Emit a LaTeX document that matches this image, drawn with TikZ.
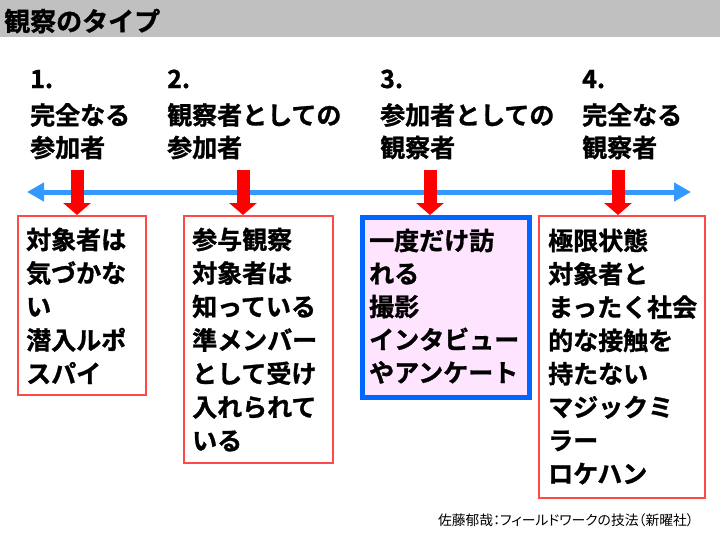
\documentclass[tikz,border=0pt]{standalone}
\usepackage{fontspec}
\setmainfont{Noto Sans CJK JP}[BoldFont={Noto Sans CJK JP Bold},BoldFeatures={FakeBold=1.2}]
\newfontfamily\citefont{Noto Sans CJK JP}[RawFeature=+palt]
\usetikzlibrary{arrows.meta}
\definecolor{titlegray}{HTML}{C0C0C0}
\definecolor{lineblue}{HTML}{3399FF}
\definecolor{boxred}{HTML}{FF4848}
\definecolor{boxblue}{HTML}{0066FF}
\definecolor{boxpink}{HTML}{FFE4FF}
\tikzset{
  redbox/.style={draw=boxred, line width=1.5pt, inner sep=0pt, anchor=north west},
  bluebox/.style={draw=boxblue, fill=boxpink, line width=4.5pt, inner sep=0pt, anchor=north west},
  txt/.style={inner sep=0pt, anchor=base west, font=\bfseries\fontsize{25pt}{25pt}\selectfont},
  head/.style={inner sep=0pt, anchor=base west, font=\bfseries\fontsize{25pt}{25pt}\selectfont},
  redarrow/.style={draw=red, line width=13pt, -{Triangle[width=27pt,length=12pt,fill=red]}},
  bluearrow/.style={draw=lineblue, line width=5pt, {Triangle[width=18pt,length=17pt]}-{Triangle[width=18pt,length=17pt]}}
}
\begin{document}
\begin{tikzpicture}[x=1pt,y=-1pt]
\useasboundingbox (0,0) rectangle (720,538);
% title bar
\fill[titlegray] (0,0) rectangle (720,37);
\node[inner sep=0pt, anchor=base west, font=\bfseries\fontsize{26pt}{26pt}\selectfont] (title) at (4,31) {観察のタイプ};

% headings
\node[head] (h1a) at (30,88) {1.};
\node[head] (h1b) at (30,124.5) {完全なる};
\node[head] (h1c) at (30,157) {参加者};
\node[head] (h2a) at (167,88) {2.};
\node[head] (h2b) at (167,124.5) {観察者としての};
\node[head] (h2c) at (167,157) {参加者};
\node[head] (h3a) at (380,88) {3.};
\node[head] (h3b) at (380,124.5) {参加者としての};
\node[head] (h3c) at (380,157) {観察者};
\node[head] (h4a) at (582,88) {4.};
\node[head] (h4b) at (582,124.5) {完全なる};
\node[head] (h4c) at (582,157) {観察者};

% blue axis
\coordinate (axL) at (27,192);
\coordinate (axR) at (691,192);
\draw[bluearrow] (axL) -- (axR);

% boxes
\node[redbox, minimum width=128pt, minimum height=179pt] (b1) at (17,215) {};
\node[redbox, minimum width=149pt, minimum height=247pt] (b2) at (183,215) {};
\node[bluebox, minimum width=167pt, minimum height=180pt] (b3) at (360,215) {};
\node[redbox, minimum width=166pt, minimum height=282pt] (b4) at (538,215) {};

% red arrows
\coordinate (t1) at (77,170);
\coordinate (t2) at (243,170);
\coordinate (t3) at (430,170);
\coordinate (t4) at (618,170);
\draw[redarrow] (t1) -- (t1 |- b1.north);
\draw[redarrow] (t2) -- (t2 |- b2.north);
\draw[redarrow] (t3) -- (t3 |- b3.north);
\draw[redarrow] (t4) -- (t4 |- b4.north);

% box texts
\foreach \t [count=\i] in {対象者は,気づかな,い,潜入ルポ,スパイ}
  \node[txt] (b1l\i) at (26,{249+33.5*(\i-1)}) {\t};
\foreach \t [count=\i] in {参与観察,対象者は,知っている,準メンバー,として受け,入れられて,いる}
  \node[txt] (b2l\i) at (192,{249+33.5*(\i-1)}) {\t};
\foreach \t [count=\i] in {一度だけ訪,れる,撮影,インタビュー,やアンケート}
  \node[txt] (b3l\i) at (369,{250+33*(\i-1)}) {\t};
\foreach \t [count=\i] in {極限状態,対象者と,まったく社会,的な接触を,持たない,マジックミ,ラー,ロケハン}
  \node[txt] (b4l\i) at (548,{250+33.3*(\i-1)}) {\t};

% citation
\node[inner sep=0pt, anchor=base east, font=\citefont\fontsize{13.8pt}{13.8pt}\selectfont] (cite) at (694,525) {佐藤郁哉：フィールドワークの技法（新曜社）};
\end{tikzpicture}
\end{document}
